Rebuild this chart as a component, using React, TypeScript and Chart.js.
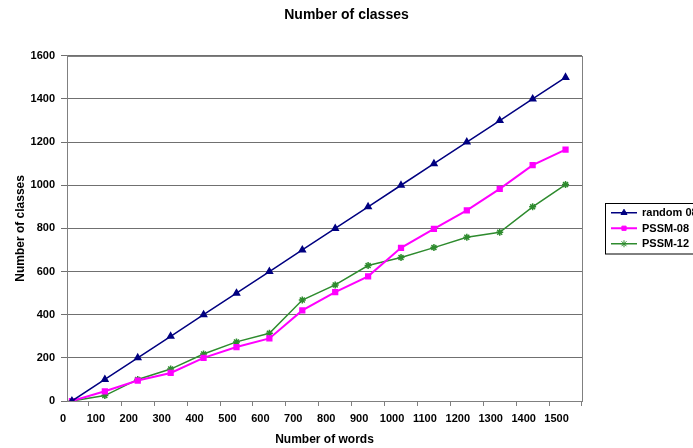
import React, { useEffect, useRef } from 'react';
import { Chart, registerables } from 'chart.js';
import { drawPoint } from 'chart.js/helpers';

Chart.register(...registerables);

// Categories (number of words) and series values
const xWords = [0, 100, 200, 300, 400, 500, 600, 700, 800, 900, 1000, 1100, 1200, 1300, 1400, 1500];
const random08 = [0, 100, 200, 300, 400, 500, 600, 700, 800, 900, 1000, 1100, 1200, 1300, 1400, 1500];
const pssm08 = [0, 45, 95, 130, 200, 250, 290, 420, 505, 578, 710, 798, 884, 983, 1093, 1165];
const pssm12 = [0, 25, 100, 148, 218, 274, 314, 468, 538, 628, 665, 711, 759, 782, 900, 1003];
const yTicks = [0, 200, 400, 600, 800, 1000, 1200, 1400, 1600];
const xAxisRange = [-15, 1550];

const seriesNames = ['random 08', 'PSSM-08', 'PSSM-12'];

const FONT = "'Liberation Sans', Arial, sans-serif";

const framePlugin = {
  id: 'frame',
  beforeDatasetsDraw(chart: any) {
    const { ctx, chartArea: a } = chart;
    ctx.save();
    ctx.strokeStyle = '#808080';
    ctx.lineWidth = 1;
    ctx.strokeRect(Math.round(a.left) + 0.5, Math.round(a.top) + 0.5, Math.round(a.right - a.left), Math.round(a.bottom - a.top));
    ctx.restore();
  },
};

const legendPlugin = {
  id: 'boxLegend',
  afterDraw(chart: any) {
    const { ctx, chartArea: a } = chart;
    const ds = chart.data.datasets;
    const rowH = 15.5;
    const boxX = Math.round(a.right + 23);
    const boxH = ds.length * rowH + 4;
    const cy = (a.top + a.bottom) / 2;
    const boxY = Math.round(cy - boxH / 2);
    ctx.save();
    ctx.strokeStyle = '#000';
    ctx.lineWidth = 1;
    ctx.strokeRect(boxX + 0.5, boxY + 0.5, 200, boxH);
    ctx.font = `bold 11px ${FONT}`;
    ctx.textBaseline = 'middle';
    ctx.textAlign = 'left';
    ds.forEach((d: any, i: number) => {
      const y = boxY + 2 + rowH * (i + 0.5);
      ctx.strokeStyle = d.borderColor;
      ctx.lineWidth = d.borderWidth;
      ctx.beginPath();
      ctx.moveTo(boxX + 6, y);
      ctx.lineTo(boxX + 32, y);
      ctx.stroke();
      ctx.fillStyle = d.pointBackgroundColor;
      ctx.strokeStyle = d.pointBorderColor;
      ctx.lineWidth = 1;
      drawPoint(ctx, { pointStyle: d.pointStyle, radius: d.pointRadius, rotation: 0, borderWidth: 1 } as any, boxX + 19, y);
      ctx.fillStyle = '#000';
      ctx.fillText(d.label, boxX + 37, y + 0.5);
    });
    ctx.restore();
  },
};

export default function App() {
  const ref = useRef<HTMLCanvasElement | null>(null);

  useEffect(() => {
    if (!ref.current) return;
    const mk = (vals: number[]) => vals.map((v, i) => ({ x: xWords[i], y: v }));
    const chart = new Chart(ref.current, {
      type: 'line',
      data: {
        datasets: [
          {
            label: seriesNames[0],
            data: mk(random08),
            borderColor: '#000080',
            backgroundColor: '#000080',
            pointBackgroundColor: '#000080',
            pointBorderColor: '#000080',
            borderWidth: 1.5,
            pointStyle: 'triangle',
            pointRadius: 3.5,
            tension: 0,
          },
          {
            label: seriesNames[1],
            data: mk(pssm08),
            borderColor: '#ff00ff',
            backgroundColor: '#ff00ff',
            pointBackgroundColor: '#ff00ff',
            pointBorderColor: '#ff00ff',
            borderWidth: 2,
            pointStyle: 'rect',
            pointRadius: 3,
            tension: 0,
          },
          {
            label: seriesNames[2],
            data: mk(pssm12),
            borderColor: '#2e8b2e',
            backgroundColor: '#2e8b2e',
            pointBackgroundColor: '#2e8b2e',
            pointBorderColor: '#2e8b2e',
            borderWidth: 1.5,
            pointStyle: 'star',
            pointRadius: 3.5,
            tension: 0,
          },
        ],
      },
      options: {
        animation: false,
        responsive: true,
        maintainAspectRatio: false,
        layout: { padding: 0 },
        plugins: {
          legend: { display: false },
          tooltip: { enabled: false },
          title: {
            display: true,
            text: 'Number of classes',
            color: '#000',
            font: { family: FONT, size: 14, weight: 'bold', lineHeight: 1.2 },
            padding: { top: 7, bottom: 32 },
          },
        },
        scales: {
          x: {
            type: 'linear',
            min: xAxisRange[0],
            max: xAxisRange[1],
            afterBuildTicks: (s: any) => {
              s.ticks = xWords.map((v) => ({ value: v }));
            },
            afterFit: (s: any) => {
              s.height = 47;
            },
            grid: {
              display: true,
              drawOnChartArea: false,
              drawTicks: true,
              tickLength: 5,
              offset: true,
              color: '#808080',
            },
            border: { display: true, color: '#808080' },
            ticks: {
              color: '#000',
              font: { family: FONT, size: 11, weight: 'bold' },
              maxRotation: 0,
              autoSkip: false,
              labelOffset: -9,
              padding: 6,
              callback: (v: any) => String(v),
            },
            title: {
              display: true,
              text: 'Number of words',
              color: '#000',
              font: { family: FONT, size: 12, weight: 'bold' },
              padding: { top: 0, bottom: 1 },
            },
          },
          y: {
            type: 'linear',
            min: yTicks[0],
            max: yTicks[yTicks.length - 1],
            afterBuildTicks: (s: any) => {
              s.ticks = yTicks.map((v) => ({ value: v }));
            },
            afterFit: (s: any) => {
              s.width = 67;
            },
            grid: {
              color: '#707070',
              drawTicks: true,
              tickLength: 6,
            },
            border: { display: true, color: '#808080' },
            ticks: {
              color: '#000',
              font: { family: FONT, size: 11, weight: 'bold' },
              padding: 6,
              callback: (v: any) => String(v),
            },
            title: {
              display: true,
              text: 'Number of classes',
              color: '#000',
              font: { family: FONT, size: 12, weight: 'bold' },
              padding: { top: 13, bottom: 0 },
            },
          },
          yRight: {
            type: 'linear',
            position: 'right',
            display: true,
            afterFit: (s: any) => {
              s.width = 111;
            },
            grid: { display: false, drawTicks: false },
            border: { display: false },
            ticks: { display: false },
          },
        },
      },
      plugins: [framePlugin, legendPlugin],
    });
    return () => chart.destroy();
  }, []);

  return (
    <div style={{ position: 'fixed', left: 0, top: 0, width: 693, height: 448, overflow: 'hidden', background: '#fff' }}>
      <canvas ref={ref} />
    </div>
  );
}
